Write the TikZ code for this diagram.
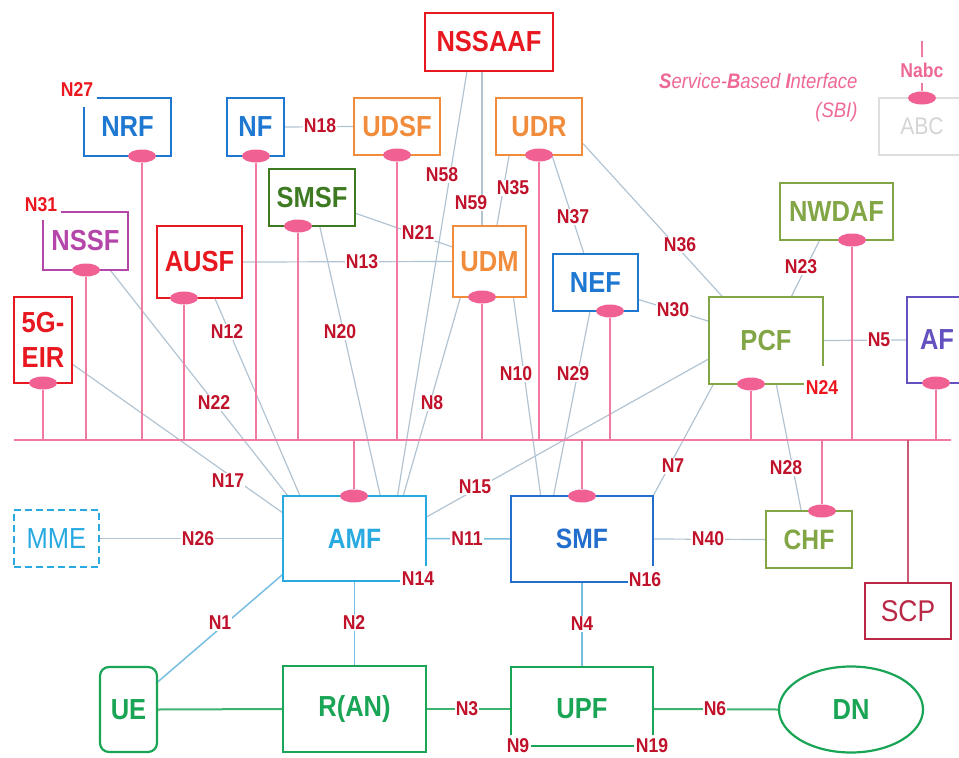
\documentclass[tikz,border=0pt]{standalone}
\usepackage{fontspec}
\setmainfont{Liberation Sans}[FakeStretch=0.88]
\usetikzlibrary{shapes.geometric,calc,backgrounds}

% palette
\definecolor{cred}{RGB}{232,24,32}
\definecolor{cblue}{RGB}{30,120,210}
\definecolor{corange}{RGB}{240,140,60}
\definecolor{cdkgreen}{RGB}{62,122,34}
\definecolor{cpurple}{RGB}{180,70,170}
\definecolor{colive}{RGB}{130,165,70}
\definecolor{cviolet}{RGB}{100,80,190}
\definecolor{ccyan}{RGB}{40,170,225}
\definecolor{csmf}{RGB}{35,110,205}
\definecolor{cgreen}{RGB}{25,165,85}
\definecolor{cscp}{RGB}{185,40,70}
\definecolor{scpline}{RGB}{200,90,120}
\definecolor{cgrey}{RGB}{222,222,222}
\definecolor{abcgrey}{RGB}{212,212,212}
\definecolor{portpink}{RGB}{240,96,146}
\definecolor{sbipink}{RGB}{242,122,160}
\definecolor{sbitext}{RGB}{238,104,150}
\definecolor{ifgrey}{RGB}{178,196,210}
\definecolor{ifcyan}{RGB}{120,190,225}
\definecolor{ifgreenc}{RGB}{60,180,110}
\definecolor{labred}{RGB}{192,18,42}
\definecolor{labbright}{RGB}{236,22,30}

\newcommand\nboxfont{\fontsize{29}{34}\selectfont\bfseries}
\newcommand\nplainfont{\fontsize{29}{34}\selectfont}
\newcommand\nlabfont{\fontsize{20}{22}\selectfont\bfseries}

\begin{document}
\begin{tikzpicture}[x=1pt,y=-1pt,
  nbox/.style={draw=#1, text=#1, line width=2.2pt, inner sep=0pt, font=\nboxfont},
  obox/.style={text=#1, inner sep=0pt, font=\nboxfont},
  boxedge/.style={draw=#1, line width=2.2pt, line join=miter},
  port/.style={ellipse, fill=portpink, minimum width=28, minimum height=13, inner sep=0pt},
  sbiline/.style={draw=sbipink, line width=2.7pt},
  ifline/.style={draw=ifgrey, line width=1.2pt},
  ifblue/.style={draw=ifcyan, line width=1.5pt},
  ifgreen/.style={draw=ifgreenc, line width=2pt},
  lab/.style={fill=white, inner sep=1.2pt, text=labred, font=\nlabfont},
  labb/.style={lab, text=labbright}]
\useasboundingbox (0,0) rectangle (959,758);

% ---- network functions ----
\node[nbox=cred, minimum width=128, minimum height=58] (nssaaf) at (489,42) {NSSAAF};
\node[obox=cblue, minimum width=87, minimum height=58] (nrf) at (127.5,127) {NRF};
\node[nbox=cblue, minimum width=57, minimum height=58] (nf) at (255.5,127) {NF};
\node[nbox=corange, minimum width=86, minimum height=57] (udsf) at (397,126.5) {UDSF};
\node[nbox=corange, minimum width=86, minimum height=57] (udr) at (539,126.5) {UDR};
\node[nbox=cdkgreen, minimum width=86, minimum height=57] (smsf) at (312,197.5) {SMSF};
\node[obox=cpurple, minimum width=85, minimum height=58] (nssf) at (85.5,241) {NSSF};
\node[nbox=cred, minimum width=85, minimum height=72] (ausf) at (199.5,262) {AUSF};
\node[nbox=cred, minimum width=58, minimum height=86, align=center,
      font=\fontsize{29}{35}\selectfont\bfseries] (eir) at (43,340) {5G-\\EIR};
\node[nbox=corange, minimum width=73, minimum height=71] (udm) at (489.5,261.5) {UDM};
\node[nbox=cblue, minimum width=85, minimum height=57] (nef) at (595.5,282.5) {NEF};
\node[nbox=colive, minimum width=113, minimum height=57] (nwdaf) at (836.5,211.5) {NWDAF};
\node[obox=colive, minimum width=114, minimum height=87] (pcf) at (766,340.5) {PCF};
\node[nbox=cviolet, minimum width=60, minimum height=86] (af) at (937,340) {AF};
\node[nbox=cgrey, text=abcgrey, font=\fontsize{24}{28}\selectfont,
      minimum width=86, minimum height=57] (abc) at (922,126.5) {ABC};

\node[obox=ccyan, minimum width=143, minimum height=85,
      font=\fontsize{28}{32}\selectfont\bfseries] (amf) at (354.5,538.5) {AMF};
\node[obox=csmf, minimum width=142, minimum height=86,
      font=\fontsize{28}{32}\selectfont\bfseries] (smf) at (582,539) {SMF};
\node[nbox=colive, minimum width=86, minimum height=57,
      font=\fontsize{28}{32}\selectfont\bfseries] (chf) at (809,539.5) {CHF};
\node[nbox=cscp, line width=2pt, font=\fontsize{30}{34}\selectfont,
      minimum width=86, minimum height=56] (scp) at (908,611) {SCP};
\node[nbox=ccyan, line width=2pt, dash pattern=on 7pt off 4pt, font=\nplainfont,
      minimum width=85, minimum height=57] (mme) at (56.5,538.5) {MME};
\node[nbox=cgreen, rounded corners=9pt, minimum width=57, minimum height=85] (ue) at (128.5,709.5) {UE};
\node[nbox=cgreen, minimum width=143, minimum height=86] (ran) at (354.5,709) {R(AN)};
\node[obox=cgreen, minimum width=142, minimum height=84] (upf) at (582,709) {UPF};
\node[nbox=cgreen, ellipse, minimum width=144, minimum height=86] (dn) at (851,709.5) {DN};

% ---- outlines left open at a corner ----
\draw[boxedge=cblue] ($(nrf.north west)+(13,0)$) -- (nrf.north east) -- (nrf.south east)
  -- (nrf.south west) -- ($(nrf.north west)+(0,9)$);
\draw[boxedge=cpurple] ($(nssf.north west)+(18,0)$) -- (nssf.north east) -- (nssf.south east)
  -- (nssf.south west) -- ($(nssf.north west)+(0,8)$);
\draw[boxedge=colive] ($(pcf.south east)+(0,-18)$) -- (pcf.north east) -- (pcf.north west)
  -- (pcf.south west) -- ($(pcf.south west)+(95,0)$);
\draw[boxedge=ccyan] ($(amf.south east)+(0,-15)$) -- (amf.north east) -- (amf.north west)
  -- (amf.south west) -- ($(amf.south west)+(117,0)$);
\draw[boxedge=csmf] ($(smf.south east)+(0,-16)$) -- (smf.north east) -- (smf.north west)
  -- (smf.south west) -- ($(smf.south west)+(118,0)$);
\draw[boxedge=cgreen] ($(upf.south west)+(0,-16)$) -- (upf.north west) -- (upf.north east)
  -- ($(upf.south east)+(0,-16)$);

% ---- service-based interface ports ----
\node[port] (nrfp) at (142,156) {};
\node[port] (nfp) at (256,156) {};
\node[port] (udsfp) at (397,155) {};
\node[port] (udrp) at (539,155) {};
\node[port] (smsfp) at (298,226) {};
\node[port] (nssfp) at (86,270) {};
\node[port] (ausfp) at (184,298) {};
\node[port] (eirp) at (43,383) {};
\node[port] (udmp) at (482,297) {};
\node[port] (nefp) at (610,311) {};
\node[port] (nwdafp) at (852,240) {};
\node[port] (pcfp) at (751,384) {};
\node[port] (afp) at (936,383) {};
\node[port] (abcp) at (922,98) {};
\node[port] (amfp) at (354,496) {};
\node[port] (smfp) at (582,496) {};
\node[port] (chfp) at (822,511) {};

\coordinate (busw) at (14,440);
\coordinate (buse) at (951,440);
\coordinate (abctop) at (922,41);

\begin{pgfonlayer}{background}
  % point-to-point reference points
  \draw[ifline] (nf.east) -- (udsf.west);
  \draw[ifline] (ausf.east) -- (udm.west);
  \draw[ifline] ($(smsf.north east)!.77!(smsf.south east)$) -- ($(udm.north west)!.3!(udm.south west)$);
  \draw[ifline] ($(nssaaf.south west)!.33!(nssaaf.south east)$) -- ($(amf.north west)!.80!(amf.north east)$);
  \draw[ifline] (udmp |- nssaaf.south) -- (udmp |- udm.north);
  \draw[ifline] ($(udr.south west)!.16!(udr.south east)$) -- ($(udm.north west)!.60!(udm.north east)$);
  \draw[ifline] ($(udr.south west)!.65!(udr.south east)$) -- ($(nef.north west)!.365!(nef.north east)$);
  \draw[ifline] ($(udr.north east)!.79!(udr.south east)$) -- ($(pcf.north west)!.12!(pcf.north east)$);
  \draw[ifline] ($(nwdaf.south west)!.35!(nwdaf.south east)$) -- ($(pcf.north west)!.72!(pcf.north east)$);
  \draw[ifline] ($(nef.north east)!.79!(nef.south east)$) -- ($(pcf.north west)!.28!(pcf.south west)$);
  \draw[ifline] (pcf.east) -- (af.west);
  \draw[ifline] ($(udm.south west)!.82!(udm.south east)$) -- ($(smf.north west)!.21!(smf.north east)$);
  \draw[ifline] ($(nef.south west)!.435!(nef.south east)$) -- ($(smf.north west)!.30!(smf.north east)$);
  \draw[ifline] ($(pcf.south west)!.04!(pcf.south east)$) -- (smf.north east);
  \draw[ifline] ($(pcf.north west)!.71!(pcf.south west)$) -- ($(amf.north east)!.25!(amf.south east)$);
  \draw[ifline] ($(pcf.south west)!.59!(pcf.south east)$) -- ($(chf.north west)!.41!(chf.north east)$);
  \draw[ifline] ($(udm.south west)!.11!(udm.south east)$) -- ($(amf.north west)!.84!(amf.north east)$);
  \draw[ifline] ($(smsf.south west)!.59!(smsf.south east)$) -- ($(amf.north west)!.68!(amf.north east)$);
  \draw[ifline] ($(ausf.south west)!.68!(ausf.south east)$) -- ($(amf.north west)!.12!(amf.north east)$);
  \draw[ifline] ($(nssf.south west)!.79!(nssf.south east)$) -- ($(amf.north west)!.035!(amf.north east)$);
  \draw[ifline] ($(eir.north east)!.78!(eir.south east)$) -- ($(amf.north west)!.2!(amf.south west)$);
  \draw[ifline] (smf.east) -- (chf.west);
  \draw[ifline] (mme.east) -- (amf.west);
  \draw[ifblue] (amf.east) -- (smf.west);
  \draw[ifblue] ($(ue.north east)!.18!(ue.south east)$) -- ($(amf.north west)!.92!(amf.south west)$);
  \draw[ifblue] (amf.south) -- (ran.north);
  \draw[ifblue] (smf.south) -- (upf.north);
  \draw[ifgreen] (ue.east) -- (ran.west);
  \draw[ifgreen] (ran.east) -- (upf.west);
  \draw[ifgreen] (upf.east) -- (dn.west);
  % service-based bus
  \foreach \p in {nrfp,nfp,udsfp,udrp,smsfp,nssfp,ausfp,eirp,udmp,nefp,nwdafp,pcfp,afp,amfp,smfp,chfp}
    \draw[sbiline] (\p) -- (\p |- busw);
  \draw[sbiline, line width=2.9pt] (busw) -- (buse);
  \draw[draw=scpline, line width=2pt] (scp.north |- busw) -- (scp.north);
  \draw[sbiline, line width=2pt] (abctop) -- (abcp);
\end{pgfonlayer}

% ---- reference point labels ----
\node[labb] (l27) at (77,90) {N27};
\node[labb] (l31) at (41,205) {N31};
\node[lab] (l18) at (320,126) {N18};
\node[lab] (l58) at (442,175) {N58};
\node[lab] (l59) at (471,203) {N59};
\node[lab] (l35) at (513,188) {N35};
\node[lab] (l37) at (573,217) {N37};
\node[lab] (l21) at (418,233) {N21};
\node[lab] (l13) at (362,262) {N13};
\node[lab] (l36) at (680,245) {N36};
\node[lab] (l23) at (801,267) {N23};
\node[lab] (l30) at (673,310) {N30};
\node[lab] (l5) at (879,340) {N5};
\node[labb] (l24) at (822,388) {N24};
\node[lab] (l12) at (227,332) {N12};
\node[lab] (l20) at (340,332) {N20};
\node[lab] (l10) at (516,374) {N10};
\node[lab] (l29) at (573,374) {N29};
\node[lab] (l22) at (214,403) {N22};
\node[lab] (l8) at (432,403) {N8};
\node[lab] (l17) at (228,481) {N17};
\node[lab] (l15) at (475,487) {N15};
\node[lab] (l7) at (673,466) {N7};
\node[lab] (l28) at (786,468) {N28};
\node[lab] (l26) at (198,539) {N26};
\node[lab] (l11) at (467,539) {N11};
\node[lab] (l40) at (708,539) {N40};
\node[lab] (l14) at (418,579) {N14};
\node[lab] (l16) at (645,580) {N16};
\node[lab] (l1) at (220,623) {N1};
\node[lab] (l2) at (354,623) {N2};
\node[lab] (l4) at (582,624) {N4};
\node[lab] (l3) at (467,709) {N3};
\node[lab] (l6) at (715,709) {N6};
\node[lab] (l9) at (518,746) {N9};
\node[lab] (l19) at (652,746) {N19};
\draw[boxedge=cgreen] (l9.east) -- (l19.west);

% ---- legend ----
\node[fill=white, inner xsep=2pt, inner ysep=6pt, text=sbitext, font=\nlabfont] (nabc) at (922,70) {Nabc};
\node[anchor=east, text=sbitext, align=right, font=\fontsize{21}{29}\selectfont\itshape] (sbi) at (861,98)
  {\textbf{S}ervice-\textbf{B}ased \textbf{I}nterface\\(SBI)};
\end{tikzpicture}
\end{document}
